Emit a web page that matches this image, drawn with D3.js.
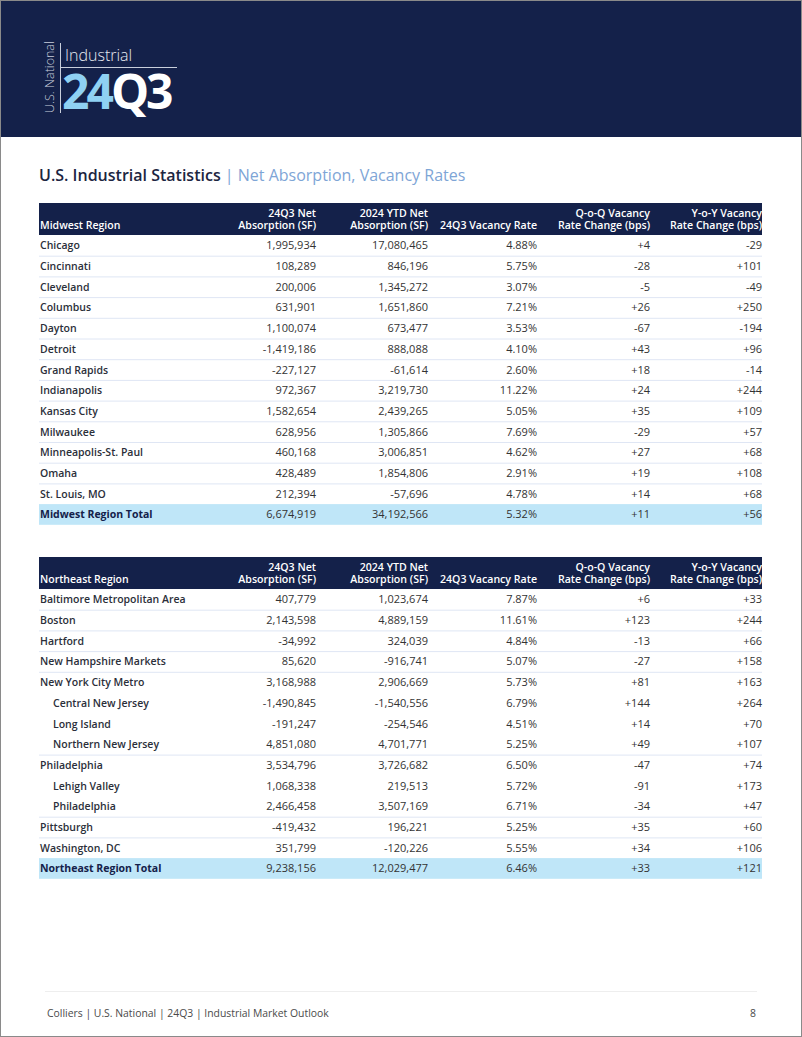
<!DOCTYPE html>
<html><head><meta charset="utf-8">
<script src="https://cdn.jsdelivr.net/npm/d3@7"></script>
<style>
html,body{margin:0;padding:0;background:#fff;}
svg{display:block;font-family:"Open Sans",sans-serif;}
</style></head>
<body>
<svg id="c" width="802" height="1037"></svg>
<script>
// ---------- DATA ----------
const columnHeaders = [["24Q3 Net","Absorption (SF)"],["2024 YTD Net","Absorption (SF)"],["24Q3 Vacancy Rate"],["Q-o-Q Vacancy","Rate Change (bps)"],["Y-o-Y Vacancy","Rate Change (bps)"]];

const midwestMarkets = ["Chicago","Cincinnati","Cleveland","Columbus","Dayton","Detroit","Grand Rapids","Indianapolis","Kansas City","Milwaukee","Minneapolis-St. Paul","Omaha","St. Louis, MO","Midwest Region Total"];
const midwestIndent = [0,0,0,0,0,0,0,0,0,0,0,0,0,0];
const midwestNet = ["1,995,934","108,289","200,006","631,901","1,100,074","-1,419,186","-227,127","972,367","1,582,654","628,956","460,168","428,489","212,394","6,674,919"];
const midwestYtd = ["17,080,465","846,196","1,345,272","1,651,860","673,477","888,088","-61,614","3,219,730","2,439,265","1,305,866","3,006,851","1,854,806","-57,696","34,192,566"];
const midwestVac = ["4.88%","5.75%","3.07%","7.21%","3.53%","4.10%","2.60%","11.22%","5.05%","7.69%","4.62%","2.91%","4.78%","5.32%"];
const midwestQoq = ["+4","-28","-5","+26","-67","+43","+18","+24","+35","-29","+27","+19","+14","+11"];
const midwestYoy = ["-29","+101","-49","+250","-194","+96","-14","+244","+109","+57","+68","+108","+68","+56"];

const northeastMarkets = ["Baltimore Metropolitan Area","Boston","Hartford","New Hampshire Markets","New York City Metro","Central New Jersey","Long Island","Northern New Jersey","Philadelphia","Lehigh Valley","Philadelphia","Pittsburgh","Washington, DC","Northeast Region Total"];
const northeastIndent = [0,0,0,0,0,1,1,1,0,1,1,0,0,0];
const northeastNet = ["407,779","2,143,598","-34,992","85,620","3,168,988","-1,490,845","-191,247","4,851,080","3,534,796","1,068,338","2,466,458","-419,432","351,799","9,238,156"];
const northeastYtd = ["1,023,674","4,889,159","324,039","-916,741","2,906,669","-1,540,556","-254,546","4,701,771","3,726,682","219,513","3,507,169","196,221","-120,226","12,029,477"];
const northeastVac = ["7.87%","11.61%","4.84%","5.07%","5.73%","6.79%","4.51%","5.25%","6.50%","5.72%","6.71%","5.25%","5.55%","6.46%"];
const northeastQoq = ["+6","+123","-13","-27","+81","+144","+14","+49","-47","-91","-34","+35","+34","+33"];
const northeastYoy = ["+33","+244","+66","+158","+163","+264","+70","+107","+74","+173","+47","+60","+106","+121"];

// ---------- DRAW ----------
const svg = d3.select("#c");
const W = 802, H = 1037;
const NAVY = "#14214a";

// header band
svg.append("rect").attr("x",0).attr("y",0).attr("width",W).attr("height",137).attr("fill",NAVY);
const logo = svg.append("g");
logo.append("text").attr("transform","translate(54,113) rotate(-90)")
  .attr("font-size",12.5).attr("font-weight",300).attr("fill","#c9cfdc").text("U.S. National");
logo.append("line").attr("x1",60.5).attr("x2",60.5).attr("y1",43).attr("y2",113).attr("stroke","#c9cfdc").attr("stroke-width",1);
logo.append("line").attr("x1",60).attr("x2",177).attr("y1",67.5).attr("y2",67.5).attr("stroke","#c9cfdc").attr("stroke-width",1);
logo.append("text").attr("x",65).attr("y",61).attr("font-size",16).attr("font-weight",300).attr("fill","#e6e9f0").text("Industrial");
const big = logo.append("text").attr("x",62).attr("y",109).attr("font-size",48).attr("font-weight",700).attr("letter-spacing",-3);
big.append("tspan").attr("fill","#8fd1f3").text("24");
big.append("tspan").attr("fill","#ffffff").text("Q3");

// title
const title = svg.append("text").attr("x",39).attr("y",181).attr("font-size",16);
title.append("tspan").attr("font-weight",600).attr("fill","#1c2541").text("U.S. Industrial Statistics ");
title.append("tspan").attr("font-weight",400).attr("fill","#7ea5d6").text("| Net Absorption, Vacancy Rates");

// column scale
const colKeys = ["net","ytd","vac","qoq","yoy"];
const colRight = d3.scaleOrdinal().domain(colKeys).range([316,428,537,650,762]);
const tableX0 = 39, tableX1 = 762;

function drawTable(top, regionName, markets, indent, net, ytd, vac, qoq, yoy){
  const g = svg.append("g");
  const headH = 32;
  g.append("rect").attr("x",tableX0).attr("y",top).attr("width",tableX1-tableX0).attr("height",headH).attr("fill",NAVY);
  g.append("text").attr("x",40).attr("y",top+26).attr("font-size",10.5).attr("font-weight",600).attr("fill","#fff").text(regionName);
  columnHeaders.forEach((lines,i)=>{
    const t = g.append("text").attr("text-anchor","end").attr("font-size",10.6).attr("font-weight",600).attr("fill","#fff");
    const x = colRight(colKeys[i]);
    lines.forEach((ln,j)=>{
      const y = top + 26 - (lines.length-1-j)*12;
      t.append("tspan").attr("x",x).attr("y",y).text(ln);
    });
  });
  const rowsTop = top+headH;
  const y = d3.scaleBand().domain(d3.range(markets.length)).range([rowsTop, rowsTop + 20.7*markets.length]);
  const n = markets.length;
  // total background
  g.append("rect").attr("x",tableX0).attr("y",y(n-1)).attr("width",tableX1-tableX0).attr("height",y.bandwidth()).attr("fill","#bfe6f8");
  // separators (before each top-level row)
  for(let i=1;i<n-1;i++){
    if(!indent[i]){
      g.append("line").attr("x1",tableX0).attr("x2",tableX1).attr("y1",y(i)+0.5).attr("y2",y(i)+0.5).attr("stroke","#dfe6f4").attr("stroke-width",1);
    }
  }
  const cols = [net,ytd,vac,qoq,yoy];
  markets.forEach((m,i)=>{
    const cy = y(i)+y.bandwidth()/2+4;
    const isTotal = i===n-1;
    g.append("text").attr("x",40+(indent[i]?13:0)).attr("y",cy).attr("font-size",10.5)
      .attr("font-weight",isTotal?700:600).attr("fill",isTotal?"#14214a":"#2b2f3a").text(m);
    cols.forEach((arr,k)=>{
      g.append("text").attr("x",colRight(colKeys[k])).attr("y",cy).attr("text-anchor","end")
        .attr("font-size",11).attr("font-weight",400).attr("fill","#333").text(arr[i]);
    });
  });
}

drawTable(203,"Midwest Region",midwestMarkets,midwestIndent,midwestNet,midwestYtd,midwestVac,midwestQoq,midwestYoy);
drawTable(557,"Northeast Region",northeastMarkets,northeastIndent,northeastNet,northeastYtd,northeastVac,northeastQoq,northeastYoy);

// footer
svg.append("line").attr("x1",45).attr("x2",757).attr("y1",991.5).attr("y2",991.5).attr("stroke","#eeeeee");
svg.append("text").attr("x",47).attr("y",1017).attr("font-size",10.4).attr("fill","#4a4a4a").text("Colliers | U.S. National | 24Q3 | Industrial Market Outlook");
svg.append("text").attr("x",756).attr("y",1017).attr("text-anchor","end").attr("font-size",10.4).attr("fill","#4a4a4a").text("8");

// page border
svg.append("rect").attr("x",0.5).attr("y",0.5).attr("width",W-1).attr("height",H-1).attr("fill","none").attr("stroke","#8a8a8a");
</script>
</body></html>
